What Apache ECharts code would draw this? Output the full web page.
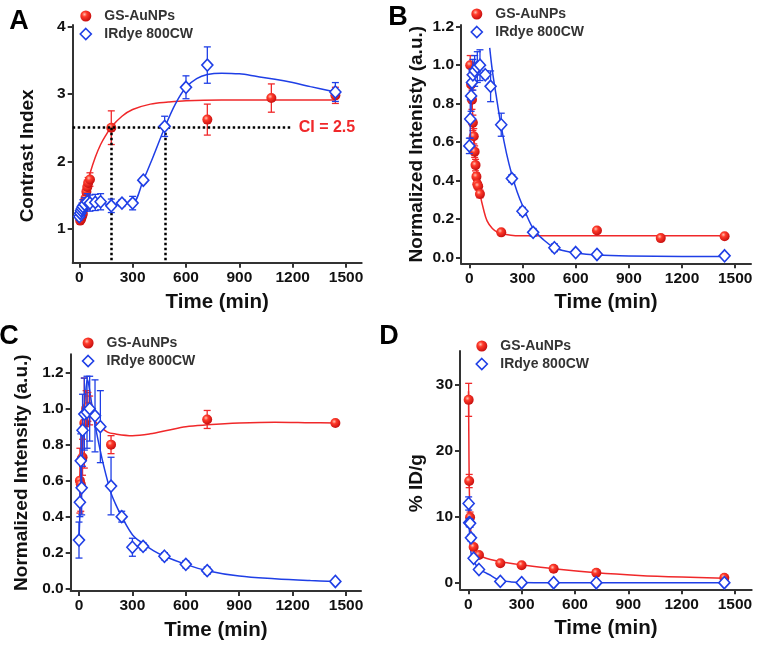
<!DOCTYPE html>
<html><head><meta charset="utf-8">
<script src="https://cdn.jsdelivr.net/npm/echarts@6/dist/echarts.min.js"></script>
<style>html,body{margin:0;padding:0;background:#fff}#c{width:762px;height:652px}</style>
</head><body><div id="c"></div>
<script>
// ---------- DATA ----------
const seriesNames = ['GS-AuNPs', 'IRdye 800CW'];
const xTicks = [0, 300, 600, 900, 1200, 1500];
const yTicksA = [1, 2, 3, 4];
const yTicksB = [0, 0.2, 0.4, 0.6, 0.8, 1.0, 1.2];
const yTicksC = [0, 0.2, 0.4, 0.6, 0.8, 1.0, 1.2];
const yTicksD = [0, 10, 20, 30];

// Panel A: contrast index
const aRedT = [5, 10, 15, 20, 25, 30, 35, 40, 45, 50, 60, 180, 720, 1080, 1440];
const aRedV = [1.12, 1.14, 1.18, 1.22, 1.3, 1.38, 1.45, 1.55, 1.62, 1.68, 1.73, 2.5, 2.62, 2.94, 2.98];
const aRedE = [0.03, 0.03, 0.04, 0.05, 0.05, 0.05, 0.06, 0.06, 0.07, 0.08, 0.1, 0.25, 0.23, 0.21, 0.12];
const aBlueT = [0, 5, 10, 15, 20, 30, 45, 60, 90, 120, 180, 240, 300, 360, 480, 600, 720, 1440];
const aBlueV = [1.18, 1.23, 1.27, 1.3, 1.33, 1.36, 1.4, 1.38, 1.39, 1.4, 1.34, 1.38, 1.38, 1.72, 2.52, 3.1, 3.43, 3.03];
const aBlueE = [0.05, 0.06, 0.08, 0.08, 0.1, 0.1, 0.12, 0.12, 0.12, 0.12, 0.1, 0.05, 0.1, 0.04, 0.15, 0.17, 0.27, 0.14];
const aRedFitT = [0, 15, 30, 45, 60, 90, 120, 150, 180, 240, 300, 400, 500, 600, 800, 1000, 1200, 1440];
const aRedFitV = [1.11, 1.32, 1.51, 1.67, 1.82, 2.06, 2.25, 2.39, 2.51, 2.67, 2.77, 2.85, 2.88, 2.9, 2.91, 2.91, 2.91, 2.91];
const aBlueFitT = [0, 5, 10, 15, 20, 30, 45, 60, 90, 120, 180, 240, 300, 360, 420, 480, 540, 600, 660, 720, 800, 900, 1000, 1100, 1200, 1300, 1440];
const aBlueFitV = [1.18, 1.22, 1.27, 1.3, 1.33, 1.36, 1.39, 1.38, 1.39, 1.39, 1.34, 1.37, 1.38, 1.72, 2.1, 2.5, 2.85, 3.1, 3.23, 3.29, 3.31, 3.3, 3.26, 3.22, 3.17, 3.11, 3.03];
const ciLevel = 2.5;
const ciTimes = [180, 485];
const ciLineEnd = 1200;
const ciLabel = 'CI = 2.5';

// Panel B: normalized intensity
const bRedT = [5, 10, 15, 20, 25, 30, 35, 40, 45, 50, 60, 180, 720, 1080, 1440];
const bRedV = [1.0, 0.9, 0.82, 0.7, 0.63, 0.55, 0.48, 0.42, 0.38, 0.37, 0.33, 0.13, 0.14, 0.1, 0.11];
const bRedE = [0.05, 0.05, 0.05, 0.04, 0.04, 0.03, 0.03, 0.02, 0.02, 0.02, 0.02, 0.01, 0.01, 0.01, 0.01];
const bBlueT = [0, 5, 10, 15, 20, 30, 45, 60, 90, 120, 180, 240, 300, 360, 480, 600, 720, 1440];
const bBlueV = [0.58, 0.72, 0.84, 0.91, 0.95, 0.97, 0.99, 1.0, 0.95, 0.89, 0.69, 0.41, 0.24, 0.13, 0.05, 0.025, 0.015, 0.008];
const bBlueE = [0.04, 0.1, 0.08, 0.07, 0.08, 0.08, 0.08, 0.08, 0.02, 0.08, 0.06, 0.02, 0.02, 0.02, 0.02, 0.01, 0.01, 0.01];
const bRedFitT = [5, 10, 15, 20, 25, 30, 40, 50, 60, 80, 100, 130, 160, 200, 260, 400, 700, 1000, 1440];
const bRedFitV = [1.0, 0.9, 0.81, 0.72, 0.65, 0.58, 0.47, 0.39, 0.33, 0.25, 0.19, 0.15, 0.13, 0.12, 0.113, 0.112, 0.112, 0.112, 0.112];
const bBlueFitT = [115, 130, 150, 180, 210, 240, 270, 300, 360, 420, 480, 540, 600, 720, 900, 1200, 1440];
const bBlueFitV = [1.09, 0.97, 0.85, 0.68, 0.54, 0.43, 0.34, 0.27, 0.15, 0.09, 0.05, 0.033, 0.022, 0.012, 0.007, 0.005, 0.005];

// Panel C: normalized intensity
const cRedT = [5, 10, 15, 20, 30, 40, 50, 60, 180, 720, 1440];
const cRedV = [0.6, 0.58, 0.72, 0.73, 0.92, 1.0, 1.01, 0.99, 0.8, 0.94, 0.92];
const cRedE = [0.18, 0.15, 0.15, 0.1, 0.25, 0.1, 0.08, 0.08, 0.05, 0.05, 0.01];
const cBlueT = [0, 5, 10, 15, 20, 30, 45, 60, 90, 120, 180, 240, 300, 360, 480, 600, 720, 1440];
const cBlueV = [0.27, 0.48, 0.71, 0.56, 0.88, 0.97, 0.98, 1.0, 0.96, 0.9, 0.57, 0.4, 0.23, 0.235, 0.18, 0.135, 0.1, 0.04];
const cBlueE = [0.1, 0.08, 0.15, 0.15, 0.2, 0.2, 0.2, 0.18, 0.2, 0.2, 0.16, 0.03, 0.05, 0.02, 0.02, 0.02, 0.02, 0.01];
const cRedFitT = [5, 15, 25, 35, 45, 55, 70, 90, 120, 160, 200, 300, 400, 500, 600, 720, 900, 1100, 1300, 1440];
const cRedFitV = [0.6, 0.75, 0.88, 0.96, 1.0, 1.0, 0.97, 0.93, 0.9, 0.87, 0.86, 0.85, 0.86, 0.88, 0.9, 0.91, 0.92, 0.925, 0.922, 0.92];
const cBlueFitT = [0, 10, 20, 30, 40, 48, 60, 80, 100, 130, 160, 180, 210, 240, 300, 360, 420, 480, 600, 720, 900, 1100, 1300, 1440];
const cBlueFitV = [0.27, 0.55, 0.8, 1.0, 1.12, 1.16, 1.1, 0.97, 0.86, 0.72, 0.6, 0.53, 0.46, 0.4, 0.3, 0.25, 0.21, 0.18, 0.135, 0.1, 0.07, 0.055, 0.045, 0.04];

// Panel D: %ID/g
const dRedT = [2, 5, 10, 30, 60, 180, 300, 480, 720, 1440];
const dRedV = [27.7, 15.4, 9.9, 5.4, 4.2, 2.95, 2.65, 2.1, 1.5, 0.75];
const dRedE = [2.5, 1.0, 0.8, 0.4, 0.3, 0.2, 0.2, 0.2, 0.2, 0.2];
const dBlueT = [2, 5, 10, 15, 30, 60, 180, 300, 480, 720, 1440];
const dBlueV = [12.0, 9.1, 9.0, 6.8, 3.7, 2.0, 0.2, 0.0, 0.0, 0.0, 0.0];
const dBlueE = [1.0, 0.6, 0.6, 0.5, 0.3, 0.3, 0.1, 0.05, 0.05, 0.05, 0.05];
const dRedFitT = [1, 3, 5, 8, 12, 18, 25, 35, 50, 70, 100, 150, 200, 300, 480, 720, 960, 1200, 1440];
const dRedFitV = [29, 22, 15.5, 11.5, 8.5, 6.5, 5.4, 4.7, 4.3, 4.0, 3.7, 3.35, 3.1, 2.7, 2.1, 1.5, 1.1, 0.85, 0.68];
const dBlueFitT = [0, 3, 6, 10, 15, 20, 30, 45, 60, 90, 120, 150, 180, 240, 300, 480, 1440];
const dBlueFitV = [12.5, 10, 8, 6, 4.6, 3.9, 3.3, 2.6, 2.1, 1.6, 1.2, 0.7, 0.35, 0.12, 0.04, 0.01, 0];

// ---------- STYLE / LAYOUT ----------
const RED = '#f0282a';
const BLUE = '#1f3fe6';
const FONT = '"Liberation Sans", Arial, sans-serif';
const redBall = {
  type: 'radial', x: 0.38, y: 0.35, r: 0.65,
  colorStops: [{offset: 0, color: '#ffc0b0'}, {offset: 0.35, color: '#ff3a2a'}, {offset: 1, color: '#c81010'}]
};

const panels = [
  {letter: 'A', grid: {left: 72.7, top: 25, width: 289, height: 237.7},
   x: [-37, 1588], y: [0.495, 4.025], yTicks: yTicksA, yDec: 0, yName: 'Contrast Index', yGap: 35, yPad: [0, 24, 0, 0],
   red: [aRedT, aRedV, aRedE], blue: [aBlueT, aBlueV, aBlueE], redFit: [aRedFitT, aRedFitV], blueFit: [aBlueFitT, aBlueFitV],
   legend: {left: 79.5, top: 9}, letterPos: [19, 22]},
  {letter: 'B', grid: {left: 461, top: 25, width: 290, height: 238.3},
   x: [-47, 1589], y: [-0.031, 1.209], yTicks: yTicksB, yDec: 1, yName: 'Normalized Intenisty (a.u.)', yGap: 35, yPad: [0, 0, 0, 0],
   red: [bRedT, bRedV, bRedE], blue: [bBlueT, bBlueV, bBlueE], redFit: [bRedFitT, bRedFitV], blueFit: [bBlueFitT, bBlueFitV],
   legend: {left: 470.5, top: 7}, letterPos: [398, 18]},
  {letter: 'C', grid: {left: 70.7, top: 354.3, width: 290.3, height: 236.7},
   x: [-46.6, 1584], y: [-0.013, 1.302], yTicks: yTicksC, yDec: 1, yName: 'Normalized Intensity (a.u.)', yGap: 39, yPad: [0, 0, 0, 0],
   red: [cRedT, cRedV, cRedE], blue: [cBlueT, cBlueV, cBlueE], redFit: [cRedFitT, cRedFitV], blueFit: [cBlueFitT, cBlueFitV],
   legend: {left: 81.8, top: 336}, letterPos: [9, 337]},
  {letter: 'D', grid: {left: 460, top: 351, width: 291.7, height: 238.3},
   x: [-46.7, 1594], y: [-1.0, 35.1], yTicks: yTicksD, yDec: 0, yName: '% ID/g', yGap: 34, yPad: [0, 26, 0, 0],
   red: [dRedT, dRedV, dRedE], blue: [dBlueT, dBlueV, dBlueE], redFit: [dRedFitT, dRedFitV], blueFit: [dBlueFitT, dBlueFitV],
   legend: {left: 475.5, top: 339}, letterPos: [389, 337]}
];

function zip(t, v, e) { return t.map((x, i) => e ? [x, v[i], e[i]] : [x, v[i]]); }

function errRender(color) {
  return function (params, api) {
    const x = api.value(0), y = api.value(1), e = api.value(2);
    const top = api.coord([x, y + e]), bot = api.coord([x, y - e]);
    const c = 3.5, st = {stroke: color, lineWidth: 1.3};
    return {type: 'group', children: [
      {type: 'line', shape: {x1: top[0], y1: top[1], x2: bot[0], y2: bot[1]}, style: st},
      {type: 'line', shape: {x1: top[0] - c, y1: top[1], x2: top[0] + c, y2: top[1]}, style: st},
      {type: 'line', shape: {x1: bot[0] - c, y1: bot[1], x2: bot[0] + c, y2: bot[1]}, style: st}
    ]};
  };
}

const grid = [], xAxis = [], yAxis = [], series = [], legend = [], graphic = [];
const axisLineStyle = {color: '#333', width: 2};
panels.forEach((p, i) => {
  grid.push(p.grid);
  xAxis.push({
    type: 'value', gridIndex: i, min: p.x[0], max: p.x[1],
    name: 'Time (min)', nameLocation: 'middle', nameGap: 29,
    nameTextStyle: {fontFamily: FONT, fontWeight: 'bold', fontSize: 20.5, color: '#111'},
    axisLine: {show: true, onZero: false, lineStyle: axisLineStyle},
    axisTick: {show: true, length: 5, inside: false, customValues: xTicks, lineStyle: axisLineStyle},
    axisLabel: {customValues: xTicks, margin: 7, fontFamily: FONT, fontWeight: 'bold', fontSize: 15.5, color: '#111',
      formatter: v => String(v)},
    splitLine: {show: false}
  });
  yAxis.push({
    type: 'value', gridIndex: i, min: p.y[0], max: p.y[1],
    name: p.yName, nameLocation: 'middle', nameGap: p.yGap,
    nameTextStyle: {fontFamily: FONT, fontWeight: 'bold', fontSize: 19, color: '#111', padding: p.yPad},
    axisLine: {show: true, onZero: false, lineStyle: axisLineStyle},
    axisTick: {show: true, length: 5, inside: false, customValues: p.yTicks, lineStyle: axisLineStyle},
    axisLabel: {customValues: p.yTicks, margin: 7, fontFamily: FONT, fontWeight: 'bold', fontSize: 15.5, color: '#111',
      formatter: v => Number(v).toFixed(p.yDec)},
    splitLine: {show: false}
  });
  // fitted curves
  series.push({type: 'line', name: seriesNames[0] + ' fit', xAxisIndex: i, yAxisIndex: i, data: zip(p.redFit[0], p.redFit[1]),
    smooth: 0.35, showSymbol: false, silent: true, lineStyle: {color: RED, width: 1.5}, z: 2});
  series.push({type: 'line', name: seriesNames[1] + ' fit', xAxisIndex: i, yAxisIndex: i, data: zip(p.blueFit[0], p.blueFit[1]),
    smooth: 0.35, showSymbol: false, silent: true, lineStyle: {color: BLUE, width: 1.5}, z: 2});
  // red error bars + points
  series.push({type: 'custom', name: seriesNames[0], xAxisIndex: i, yAxisIndex: i, data: zip(p.red[0], p.red[1], p.red[2]),
    renderItem: errRender(RED), encode: {x: 0, y: 1}, z: 3, silent: true});
  const redScatter = {type: 'scatter', name: seriesNames[0], xAxisIndex: i, yAxisIndex: i, data: zip(p.red[0], p.red[1]),
    symbol: 'circle', symbolSize: 10, itemStyle: {color: redBall, opacity: 1}, z: 4};
  if (p.letter === 'A') {
    redScatter.markLine = {
      silent: true, symbol: 'none', animation: false,
      lineStyle: {color: '#000', type: 'dotted', width: 2.5},
      label: {show: false},
      data: [
        [{coord: [p.x[0], ciLevel], label: {show: true, position: 'end', formatter: ciLabel, color: RED, fontFamily: FONT, fontWeight: 'bold', fontSize: 16, distance: 6}},
         {coord: [ciLineEnd, ciLevel]}],
        [{coord: [ciTimes[0], ciLevel]}, {coord: [ciTimes[0], p.y[0]]}],
        [{coord: [ciTimes[1], ciLevel]}, {coord: [ciTimes[1], p.y[0]]}]
      ]
    };
  }
  series.push(redScatter);
  // blue error bars + points
  series.push({type: 'custom', name: seriesNames[1], xAxisIndex: i, yAxisIndex: i, data: zip(p.blue[0], p.blue[1], p.blue[2]),
    renderItem: errRender(BLUE), encode: {x: 0, y: 1}, z: 5, silent: true});
  series.push({type: 'scatter', name: seriesNames[1], xAxisIndex: i, yAxisIndex: i, data: zip(p.blue[0], p.blue[1]),
    symbol: 'diamond', symbolSize: [11, 12], itemStyle: {color: '#fff', borderColor: BLUE, borderWidth: 1.6, opacity: 1}, z: 6});
  legend.push({
    left: p.legend.left, top: p.legend.top, orient: 'vertical', padding: 0, itemGap: 4,
    itemWidth: 11, itemHeight: 11, selectedMode: false,
    data: [{name: seriesNames[0], icon: 'circle', itemStyle: {color: redBall}},
           {name: seriesNames[1], icon: 'diamond', itemStyle: {color: '#fff', borderColor: BLUE, borderWidth: 1.6}}],
    textStyle: {fontFamily: FONT, fontWeight: 'bold', fontSize: 14, color: '#333', lineHeight: 14, padding: [0, 0, 0, 8]}
  });
  graphic.push({type: 'text', x: p.letterPos[0], y: p.letterPos[1],
    style: {text: p.letter, font: 'bold 27px ' + FONT, fill: '#000', align: 'center', verticalAlign: 'middle'}});
});

const chart = echarts.init(document.getElementById('c'), null, {renderer: 'canvas'});
chart.setOption({animation: false, backgroundColor: '#fff', grid, xAxis, yAxis, series, legend, graphic});
</script></body></html>
